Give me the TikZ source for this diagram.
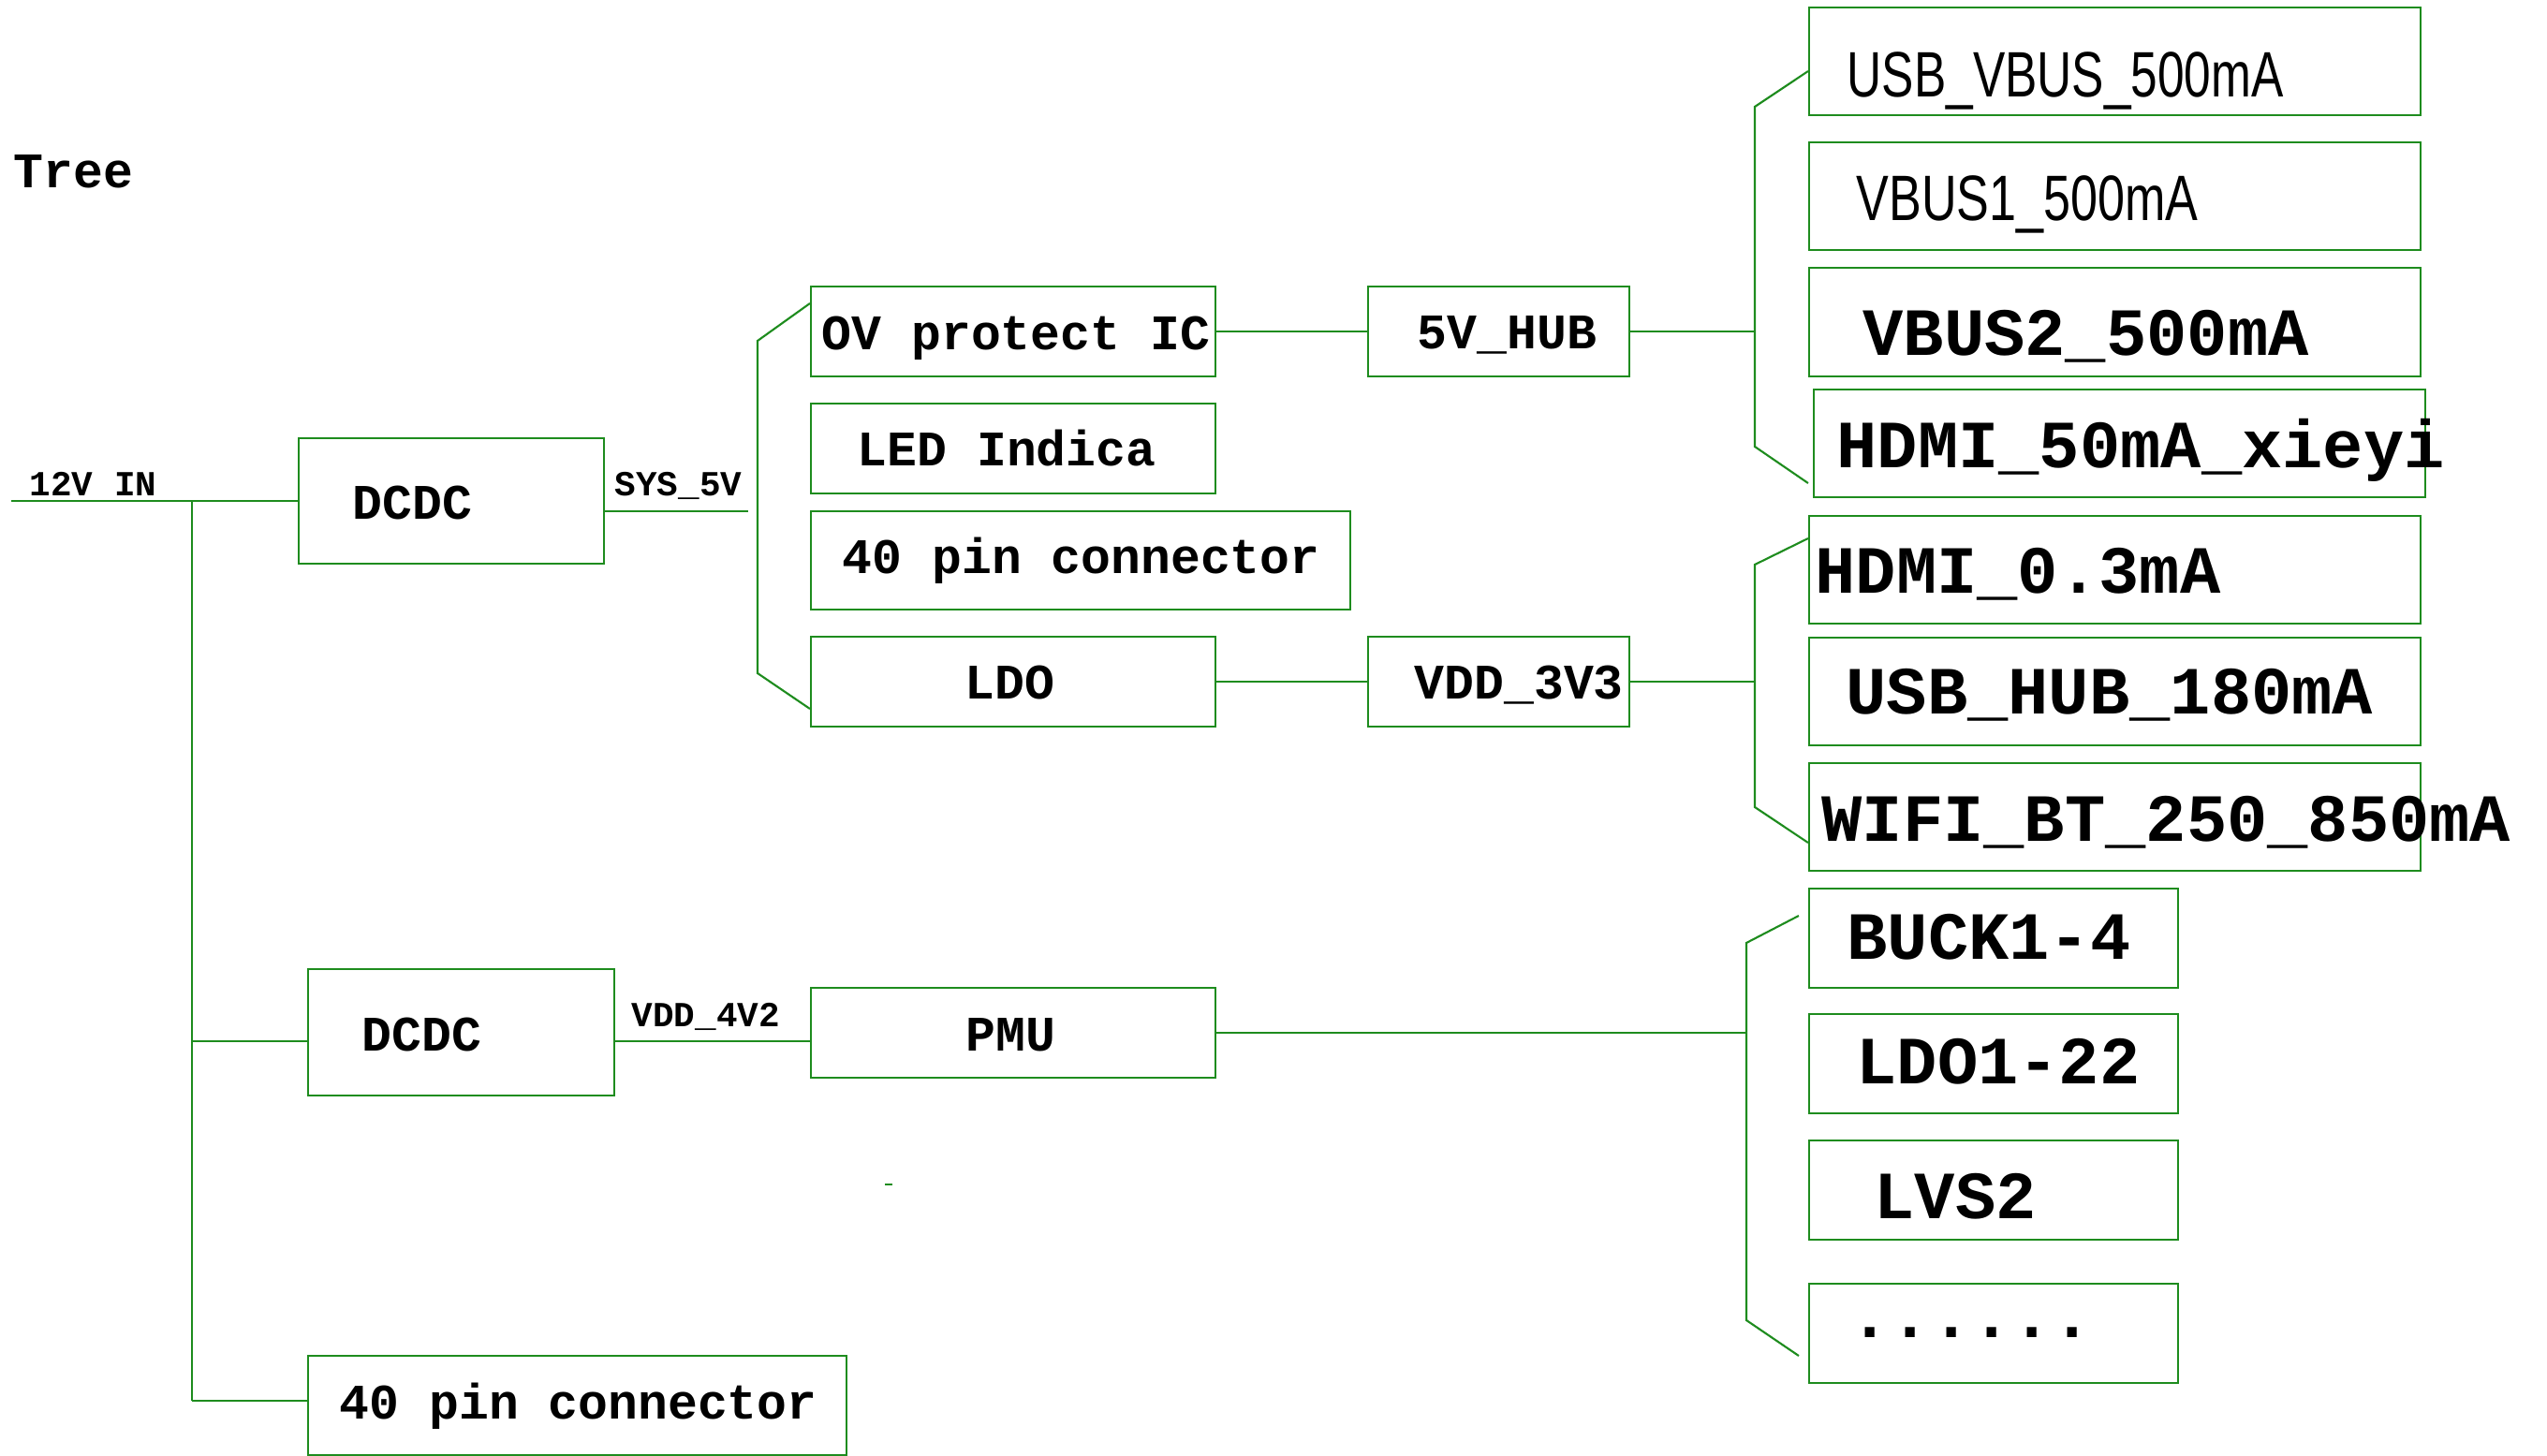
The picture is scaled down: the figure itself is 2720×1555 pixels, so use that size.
\documentclass[tikz,border=0pt]{standalone}
\usepackage{fontspec}
\usepackage{graphicx}
\usetikzlibrary{fit}
\newfontfamily\cour{Liberation Mono}
\newfontfamily\arial{Liberation Sans}
\definecolor{pgreen}{RGB}{30,140,30}

\begin{document}
\begin{tikzpicture}[x=0.01cm, y=0.01cm,
    wire/.style={pgreen, line width=0.6pt},
    pbox/.style={draw=pgreen, line width=0.6pt, inner sep=0pt},
    smalltxt/.style={font=\cour\bfseries\fontsize{10.7}{12}\selectfont, anchor=base west, inner sep=0pt},
    midtxt/.style={font=\cour\bfseries\fontsize{15.1}{17}\selectfont, anchor=base west, inner sep=0pt},
    bigtxt/.style={font=\cour\bfseries\fontsize{20.5}{23}\selectfont, anchor=base west, inner sep=0pt},
    sanstxt/.style={font=\arial\fontsize{19.5}{22}\selectfont, anchor=base west, inner sep=0pt}]
                    \useasboundingbox (0,0) rectangle (2720,-1555);
                    \node[midtxt] (title) at (14,-201) {Tree};
                    % 12V input and trunk
                    \coordinate (in) at (12,-535);
                    \coordinate (j1) at (205,-535);
                    \coordinate (j2) at (205,-1112);
                    \coordinate (j3) at (205,-1496);
                    \node[smalltxt] (lin) at (31,-530) {12V IN};
                    \node[pbox, fit={(319,-468)(645,-602)}] (dcdc1) {};
                    \node[midtxt] (tdcdc1) at (376,-555) {DCDC};
                    \node[pbox, fit={(329,-1035)(656,-1170)}] (dcdc2) {};
                    \node[midtxt] (tdcdc2) at (386,-1122) {DCDC};
                    \node[pbox, fit={(329,-1448)(904,-1554)}] (pin2) {};
                    \node[midtxt] (tpin2) at (362,-1515) {40 pin connector};
                    \draw[wire] (in) -- (dcdc1.west);
                    \draw[wire] (j1) -- (j3);
                    \draw[wire] (j2) -- (j2 -| dcdc2.west);
                    \draw[wire] (j3) -- (j3 -| pin2.west);
                    % SYS_5V branch
                    \coordinate (s5) at (799,-546);
                    \node[smalltxt] (lsys) at (656,-530) {SYS\_5V};
                    \draw[wire] (s5 -| dcdc1.east) -- (s5);
                    \node[pbox, fit={(866,-306)(1298,-402)}] (ov) {};
                    \node[midtxt] (tov) at (877,-374) {OV protect IC};
                    \node[pbox, fit={(866,-431)(1298,-527)}] (led) {};
                    \node[midtxt] (tled) at (915,-498) {LED Indica};
                    \node[pbox, fit={(866,-546)(1442,-651)}] (pin1) {};
                    \node[midtxt] (tpin1) at (899,-613) {40 pin connector};
                    \node[pbox, fit={(866,-680)(1298,-776)}] (ldo) {};
                    \node[midtxt] (tldo) at (1030,-747) {LDO};
                    \coordinate (b1a) at (809,-364);
                    \coordinate (b1b) at (809,-719);
                    \draw[wire] ([yshift=3mm]ov.west) -- (b1a) -- (b1b) -- ([yshift=-2.9mm]ldo.west);
                    \node[pbox, fit={(1461,-306)(1740,-402)}] (hub) {};
                    \node[midtxt] (thub) at (1513,-373) {5V\_HUB};
                    \node[pbox, fit={(1461,-680)(1740,-776)}] (v33) {};
                    \node[midtxt] (tv33) at (1510,-747) {VDD\_3V3};
                    \draw[wire] (ov) -- (hub);
                    \draw[wire] (ldo) -- (v33);
                    % 5V_HUB loads
                    \coordinate (sp2) at (1874,-354);
                    \coordinate (b2a) at (1874,-114);
                    \coordinate (b2b) at (1874,-477);
                    \node[pbox, fit={(1932,-8)(2585,-123)}] (usb) {};
                    \node[sanstxt] (tusb) at (1972,-104) {\scalebox{0.75}[1]{USB\_VBUS\_500mA}};
                    \node[pbox, fit={(1932,-152)(2585,-267)}] (vb1) {};
                    \node[sanstxt] (tvb1) at (1982,-236) {\scalebox{0.76}[1]{VBUS1\_500mA}};
                    \node[pbox, fit={(1932,-286)(2585,-402)}] (vb2) {};
                    \node[bigtxt] (tvb2) at (1989,-380) {VBUS2\_500mA};
                    \node[pbox, fit={(1937,-416)(2590,-531)}] (hdmia) {};
                    \node[bigtxt] (thdmia) at (1961,-500) {HDMI\_50mA\_xieyi};
                    \draw[wire] (hub) -- (sp2);
                    \draw[wire] ([yshift=-1.05mm]usb.west) -- (b2a) -- (b2b) -- ([xshift=-0.5mm,yshift=-4.25mm]hdmia.west);
                    % VDD_3V3 loads
                    \coordinate (sp3) at (1874,-728);
                    \coordinate (b3a) at (1874,-603);
                    \coordinate (b3b) at (1874,-862);
                    \node[pbox, fit={(1932,-551)(2585,-666)}] (hdmib) {};
                    \node[bigtxt] (thdmib) at (1938,-634) {HDMI\_0.3mA};
                    \node[pbox, fit={(1932,-681)(2585,-796)}] (uhub) {};
                    \node[bigtxt] (tuhub) at (1971,-763) {USB\_HUB\_180mA};
                    \node[pbox, fit={(1932,-815)(2585,-930)}] (wifi) {};
                    \node[bigtxt] (twifi) at (1945,-898) {WIFI\_BT\_250\_850mA};
                    \draw[wire] (v33) -- (sp3);
                    \draw[wire] ([yshift=3.35mm]hdmib.west) -- (b3a) -- (b3b) -- ([yshift=-2.75mm]wifi.west);
                    % VDD_4V2 and PMU rails
                    \node[smalltxt] (l4v2) at (674,-1096) {VDD\_4V2};
                    \node[pbox, fit={(866,-1055)(1298,-1151)}] (pmu) {};
                    \node[midtxt] (tpmu) at (1031,-1122) {PMU};
                    \draw[wire] (j2 -| dcdc2.east) -- (j2 -| pmu.west);
                    \coordinate (sp4) at (1865,-1103);
                    \coordinate (b4a) at (1865,-1007);
                    \coordinate (b4b) at (1865,-1410);
                    \node[pbox, fit={(1932,-949)(2326,-1055)}] (buck) {};
                    \node[bigtxt] (tbuck) at (1972,-1024) {BUCK1-4};
                    \node[pbox, fit={(1932,-1083)(2326,-1189)}] (ldob) {};
                    \node[bigtxt] (tldob) at (1982,-1157) {LDO1-22};
                    \node[pbox, fit={(1932,-1218)(2326,-1324)}] (lvs) {};
                    \node[bigtxt] (tlvs) at (2001,-1301) {LVS2};
                    \node[pbox, fit={(1932,-1371)(2326,-1477)}] (more) {};
                    \node[bigtxt] (tmore) at (1975,-1428) {......};
                    \draw[wire] (pmu) -- (sp4);
                    \draw[wire] ([xshift=-1mm,yshift=2.4mm]buck.west) -- (b4a) -- (b4b) -- ([xshift=-1mm,yshift=-2.4mm]more.west);
                    \draw[wire] (945,-1265) -- (953,-1265);
\end{tikzpicture}
\end{document}
